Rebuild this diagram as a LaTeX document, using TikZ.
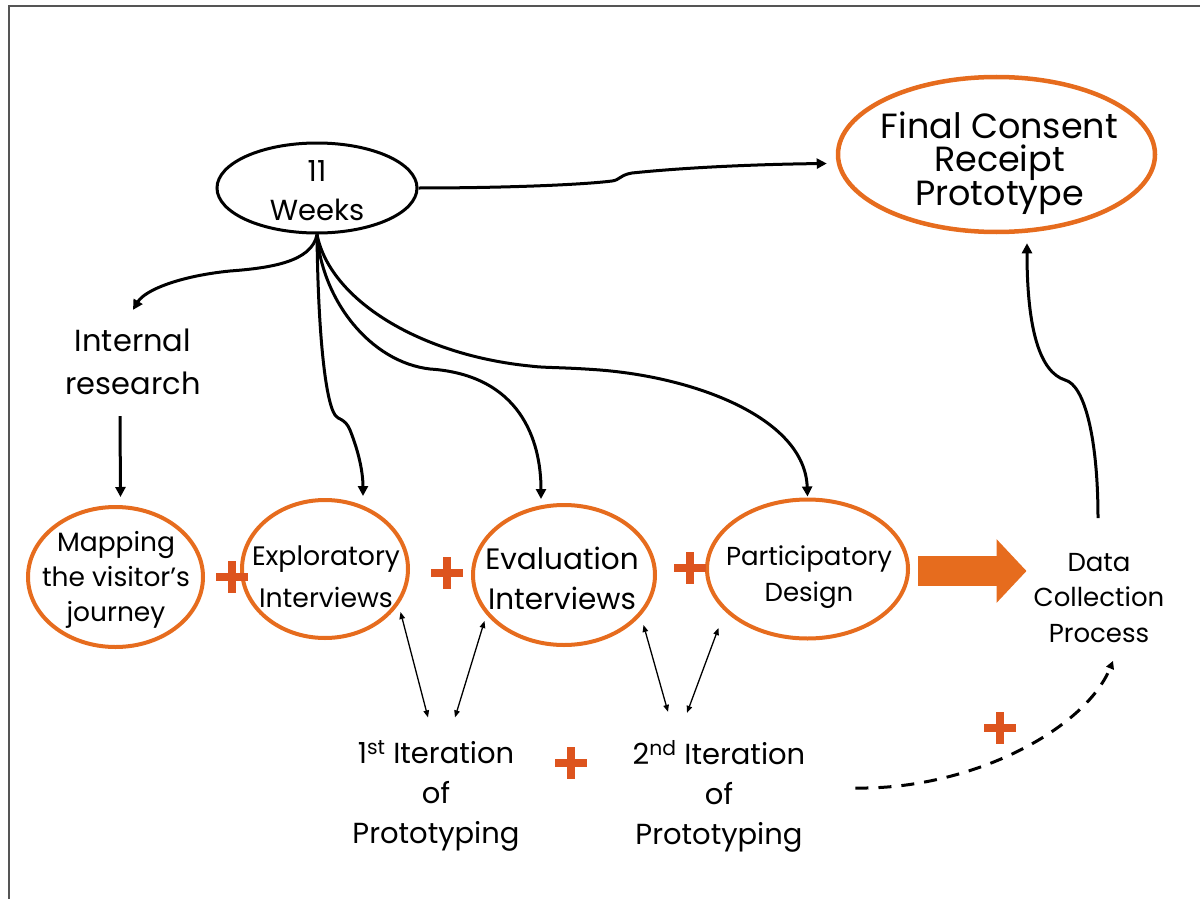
\documentclass[tikz,border=0pt]{standalone}
\usepackage{fontspec}
\setmainfont{Poppins}
\usetikzlibrary{arrows.meta,shapes.geometric}
\definecolor{ored}{RGB}{230,108,30}
\definecolor{pred}{RGB}{221,84,30}
\definecolor{framegray}{RGB}{85,85,85}
\begin{document}
\begin{tikzpicture}[x=1pt,y=-1pt,
  ovalblack/.style={ellipse, draw, line width=3pt, inner sep=0pt},
  ovalorange/.style={ellipse, draw=ored, line width=4pt, inner sep=0pt},
  txt/.style={align=center, inner sep=3pt, text=black},
  conn/.style={line width=3pt, -{Triangle[length=10pt,width=10pt]}},
  thinarr/.style={line width=1.3pt, {Triangle[length=7pt,width=5.5pt]}-{Triangle[length=7pt,width=5.5pt]}},
  dasharr/.style={line width=3pt, dash pattern=on 13pt off 10pt, -{Triangle[length=8pt,width=8pt]}},
  bigarr/.style={line width=30pt, ored, -{Triangle[length=30pt,width=62pt]}},
  plussign/.pic={\draw[line width=8pt, pred] (-16,0) -- (16,0) (0,-16) -- (0,16);}
]
\useasboundingbox (0,0) rectangle (1200,899);
\draw[framegray, line width=2pt] (9,899) -- (9,6) -- (1200,6);

% ellipses
\node[ovalblack, minimum width=200, minimum height=90] (weeks) at (317,188) {};
\node[ovalorange, line width=4.5pt, minimum width=317, minimum height=155] (final) at (996.5,154.5) {};
\node[ovalorange, minimum width=175, minimum height=140] (mapping) at (115.5,577) {};
\node[ovalorange, minimum width=166, minimum height=138] (explor) at (325,569) {};
\node[ovalorange, minimum width=182, minimum height=140] (eval) at (564,575) {};
\node[ovalorange, minimum width=201, minimum height=139] (partic) at (807.5,569) {};

% texts
\node[txt, font=\fontsize{29}{39}\selectfont] (weeksT) at (317,191) {11\\Weeks};
\node[txt, font=\fontsize{35}{33.5}\selectfont] (finalT) at (999.5,163) {Final Consent\\Receipt\\Prototype};
\node[txt, font=\fontsize{30.5}{43}\selectfont] (internal) at (133,362) {Internal\\research};
\node[txt, font=\fontsize{26.5}{35}\selectfont] (mappingT) at (116,580) {Mapping\\the visitor’s\\journey};
\node[txt, font=\fontsize{26.7}{42}\selectfont] (explorT) at (326,577) {Exploratory\\Interviews};
\node[txt, font=\fontsize{29.5}{40}\selectfont] (evalT) at (562,578) {Evaluation\\Interviews};
\node[txt, font=\fontsize{26}{36}\selectfont] (particT) at (809,577) {Participatory\\Design};
\node[txt, font=\fontsize{26}{35.5}\selectfont] (data) at (1099,598) {Data\\Collection\\Process};
\node[txt, font=\fontsize{29}{40}\selectfont] (iter1) at (436,796) {1\textsuperscript{st} Iteration\\of\\Prototyping};
\node[txt, font=\fontsize{29}{40}\selectfont] (iter2) at (719,796) {2\textsuperscript{nd} Iteration\\of\\Prototyping};

% plus signs
\pic at (232,577) {plussign};
\pic at (447,573) {plussign};
\pic at (690,568) {plussign};
\pic at (571,763) {plussign};
\pic at (1000,728) {plussign};

% connectors
\draw[conn] (weeks.east) .. controls (500,188) and (580,185) .. (612,181)
  .. controls (620,180) and (620,175) .. (632,173)
  .. controls (700,166) and (780,164) .. ([shift={(-9pt,-9pt)}]final.west);
\draw[conn] (weeks.south) .. controls (312,262) and (270,268) .. (230,271)
  .. controls (180,276) and (145,290) .. ([yshift=16pt]internal.north);
\draw[conn] ([shift={(-13pt,-18pt)}]internal.south) -- ([shift={(5pt,8pt)}]mapping.north);
\draw[conn] (weeks.south) .. controls (318,330) and (325,400) .. (335,415)
  .. controls (338,420) and (345,418) .. (350,430)
  .. controls (360,455) and (363,475) .. ([shift={(38pt,2pt)}]explor.north);
\draw[conn] (weeks.south) .. controls (322,300) and (370,362) .. (430,369)
  .. controls (520,375) and (541,440) .. ([shift={(-23pt,4pt)}]eval.north);
\draw[conn] (weeks.south) .. controls (330,300) and (420,355) .. (530,366)
  .. controls (545,368) and (560,367) .. (600,370)
  .. controls (700,378) and (805,420) .. ([yshift=1pt]partic.north);
\draw[conn] ([shift={(-1pt,32pt)}]data.north) .. controls (1098,440) and (1085,385) .. (1065,380)
  .. controls (1040,372) and (1027,330) .. ([shift={(30.5pt,-9pt)}]final.south);
\draw[bigarr] ([shift={(8pt,-2pt)}]partic.east) -- ([shift={(-4pt,27pt)}]data.west);

\draw[thinarr] ([shift={(-9.5pt,-43pt)}]explor.east) -- ([shift={(-8pt,20pt)}]iter1.north);
\draw[thinarr] ([shift={(13.5pt,-46pt)}]eval.west) -- ([shift={(19pt,20pt)}]iter1.north);
\draw[thinarr] ([shift={(-13.5pt,-50pt)}]eval.east) -- ([shift={(-51pt,25pt)}]iter2.north);
\draw[thinarr] ([shift={(13.5pt,-59pt)}]partic.west) -- ([shift={(-32pt,24pt)}]iter2.north);

\draw[dasharr] ([shift={(47pt,8pt)}]iter2.east) .. controls (970,790) and (1085,730) .. ([shift={(14pt,-15pt)}]data.south);
\end{tikzpicture}
\end{document}
